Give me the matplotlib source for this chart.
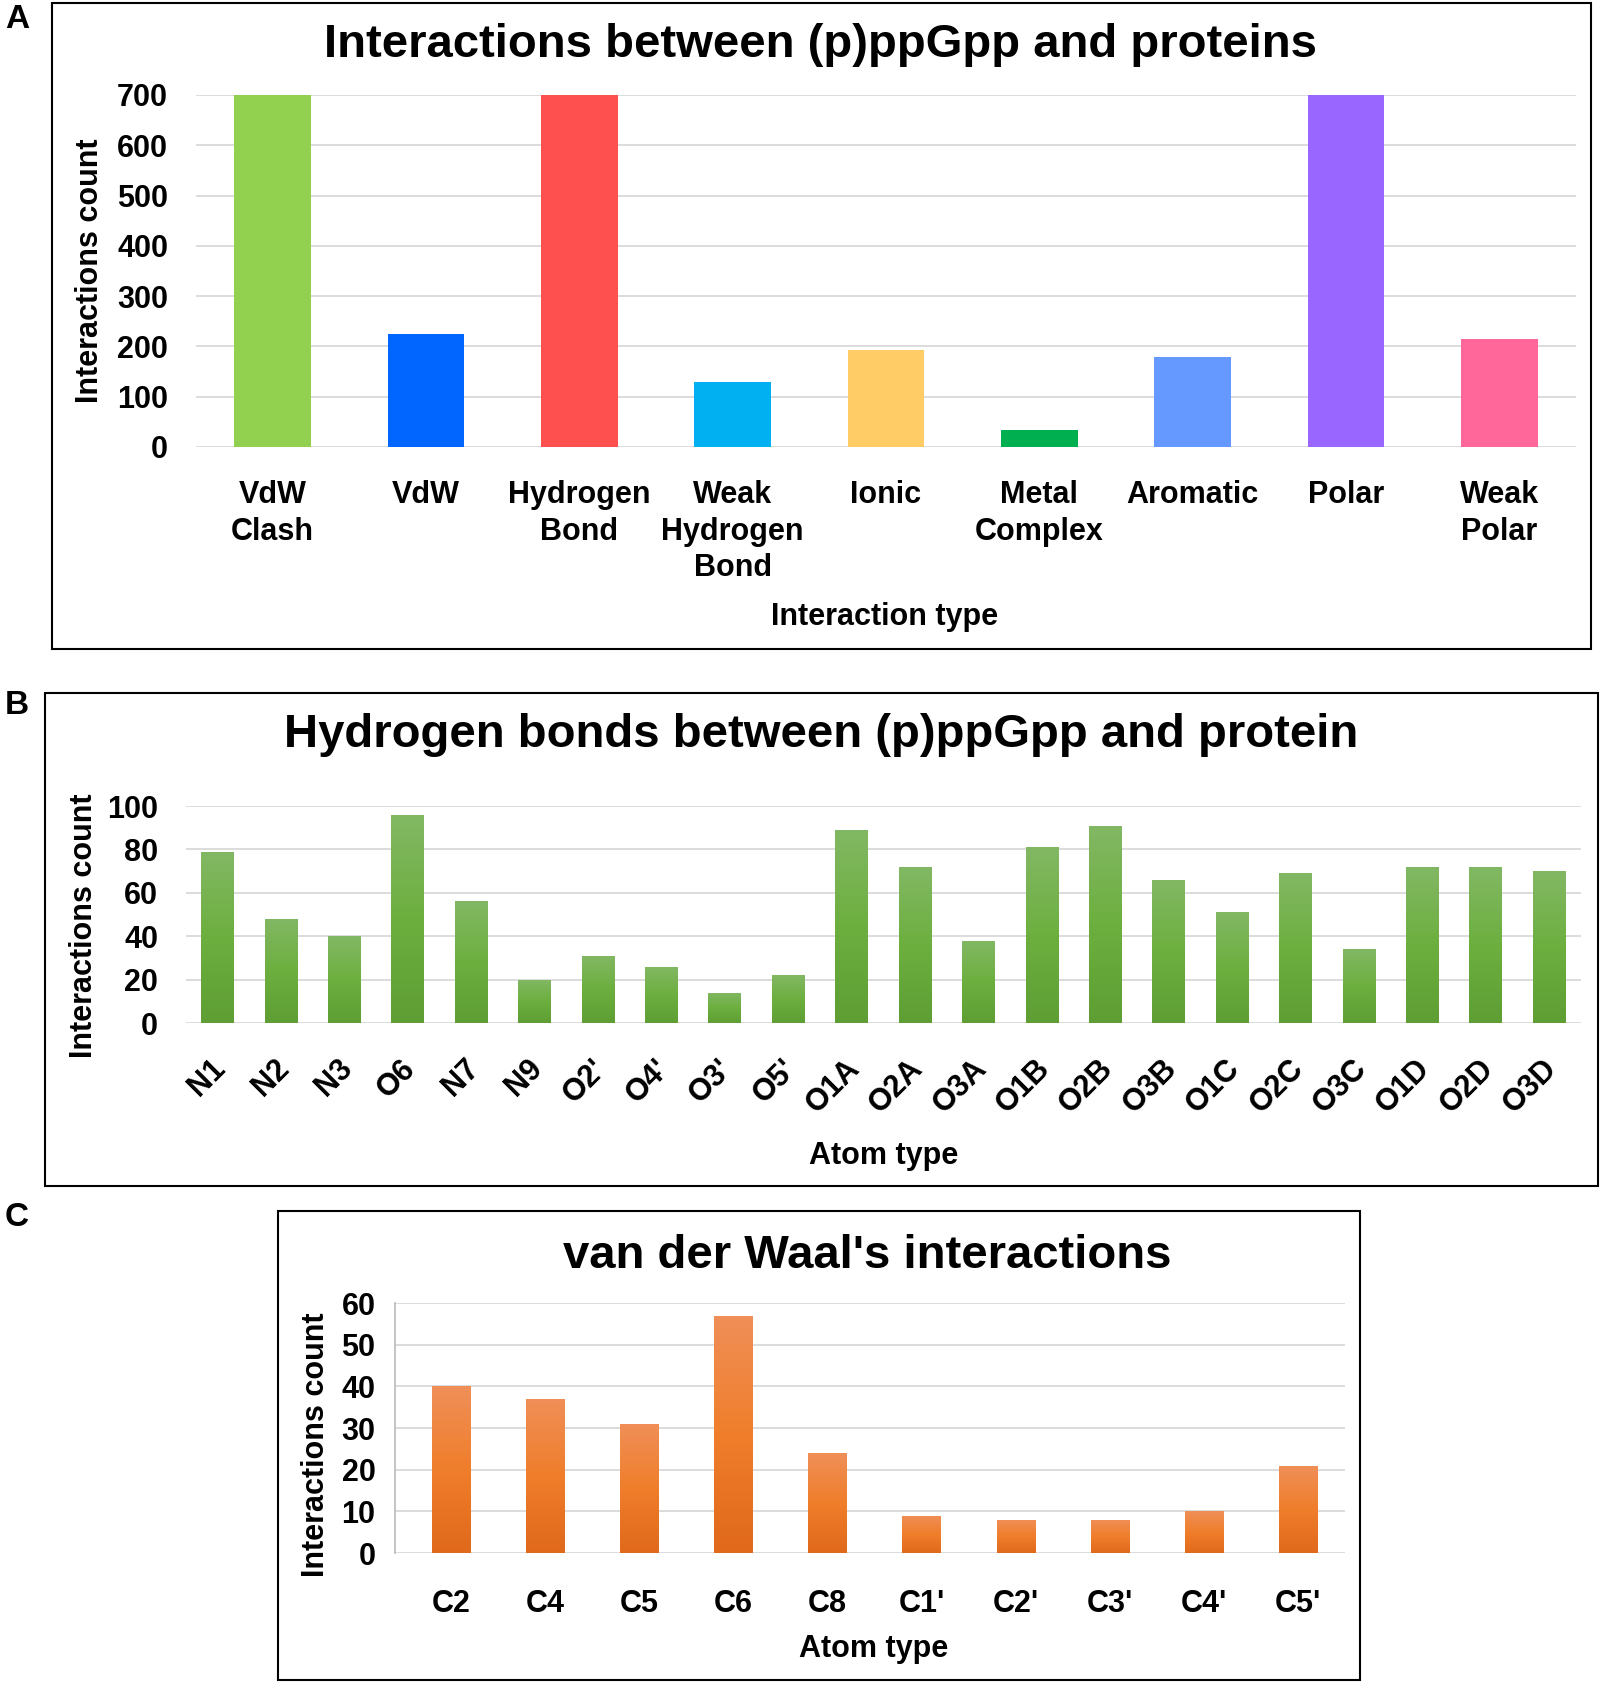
import matplotlib
matplotlib.use('Agg')
import matplotlib.pyplot as plt
import matplotlib.transforms as mtransforms
import numpy as np
from matplotlib.colors import LinearSegmentedColormap
from matplotlib.patches import Rectangle

plt.rcParams['font.family'] = ['Liberation Sans', 'DejaVu Sans']
plt.rcParams['font.weight'] = 'bold'

# panel A data
types_a = ['VdW\nClash', 'VdW', 'Hydrogen\nBond', 'Weak\nHydrogen\nBond', 'Ionic',
           'Metal\nComplex', 'Aromatic', 'Polar', 'Weak\nPolar']
counts_a = [700, 224, 700, 129, 192, 33, 178, 700, 214]
colors_a = ['#92D050', '#0066FF', '#FF5050', '#00B0F0', '#FFCC66',
            '#00B050', '#6699FF', '#9966FF', '#FF6699']
yticks_a = [0, 100, 200, 300, 400, 500, 600, 700]

# panel B data
atoms_b = ['N1', 'N2', 'N3', 'O6', 'N7', 'N9', "O2'", "O4'", "O3'", "O5'",
           'O1A', 'O2A', 'O3A', 'O1B', 'O2B', 'O3B', 'O1C', 'O2C', 'O3C',
           'O1D', 'O2D', 'O3D']
counts_b = [79, 48, 40, 96, 56, 20, 31, 26, 14, 22,
            89, 72, 38, 81, 91, 66, 51, 69, 34, 72, 72, 70]
yticks_b = [0, 20, 40, 60, 80, 100]

# panel C data
atoms_c = ['C2', 'C4', 'C5', 'C6', 'C8', "C1'", "C2'", "C3'", "C4'", "C5'"]
counts_c = [40, 37, 31, 57, 24, 9, 8, 8, 10, 21]
yticks_c = [0, 10, 20, 30, 40, 50, 60]

green = LinearSegmentedColormap.from_list('g', ['#82B864', '#6DAF3F', '#5E9E34'])
orange = LinearSegmentedColormap.from_list('o', ['#EF8F58', '#F07E2B', '#E0691B'])

W, H = 1601, 1685
fig = plt.figure(figsize=(W / 100, H / 100), dpi=100)


def px_axes(l, t, r, b):
    return fig.add_axes([l / W, 1 - b / H, (r - l) / W, (b - t) / H])


def px_text(x, y, s, **kw):
    fig.text(x / W, 1 - y / H, s, ha='center', va='center', **kw)


def frame(l, t, r, b):
    fig.add_artist(Rectangle((l / W, 1 - b / H), (r - l) / W, (b - t) / H,
                             transform=fig.transFigure, fill=False,
                             ec='black', lw=1.5))


def style(ax, yticks, ypad, xpad):
    for s in ax.spines.values():
        s.set_visible(False)
    ax.set_yticks(yticks)
    ax.set_ylim(yticks[0], yticks[-1])
    ax.grid(axis='y', color='#D9D9D9', lw=1.3)
    ax.set_axisbelow(True)
    ax.tick_params(axis='y', length=0, labelsize=22, pad=ypad)
    ax.tick_params(axis='x', length=0, labelsize=22, pad=xpad)


def gradient_bars(ax, n, vals, width, cmap):
    x = np.arange(n)
    bars = ax.bar(x, vals, width=width, color='none', zorder=2)
    grad = np.linspace(0, 1, 256).reshape(-1, 1)
    for b in bars:
        im = ax.imshow(grad, extent=[b.get_x(), b.get_x() + b.get_width(), 0, b.get_height()],
                       cmap=cmap, aspect='auto', zorder=2, interpolation='bilinear')
        im.set_clip_path(b)


# ---- A ----
frame(52, 3, 1591, 649)
ax = px_axes(196, 95, 1576, 447)
ax.bar(np.arange(len(types_a)), counts_a, width=0.5, color=colors_a, zorder=2)
ax.set_xlim(-0.5, len(types_a) - 0.5)
ax.set_xticks(np.arange(len(types_a)))
ax.set_xticklabels(types_a, linespacing=1.27)
style(ax, yticks_a, 20, 24)
px_text(820, 45, 'Interactions between (p)ppGpp and proteins', fontsize=34)
px_text(90, 271, 'Interactions count', fontsize=22, rotation=90)
px_text(885, 617, 'Interaction type', fontsize=22)
px_text(17, 19, 'A', fontsize=24)

# ---- B ----
frame(45, 693, 1598, 1186)
ax = px_axes(186, 806, 1581, 1023)
gradient_bars(ax, len(atoms_b), counts_b, 0.52, green)
ax.set_xlim(-0.5, len(atoms_b) - 0.5)
ax.set_xticks(np.arange(len(atoms_b)))
style(ax, yticks_b, 20, 22)
ax.set_xticklabels(atoms_b, rotation=45, ha='right')
shift = mtransforms.ScaledTranslation(0.14, 0, fig.dpi_scale_trans)
for lab in ax.get_xticklabels():
    lab.set_transform(lab.get_transform() + shift)
px_text(821, 735, 'Hydrogen bonds between (p)ppGpp and protein', fontsize=34)
px_text(84, 926, 'Interactions count', fontsize=22, rotation=90)
px_text(884, 1156, 'Atom type', fontsize=22)
px_text(17, 706, 'B', fontsize=24)

# ---- C ----
frame(278, 1211, 1360, 1680)
ax = px_axes(395, 1303, 1345, 1553)
gradient_bars(ax, len(atoms_c), counts_c, 0.41, orange)
ax.set_xlim(-0.6, len(atoms_c) - 0.5)
ax.set_xticks(np.arange(len(atoms_c)))
ax.set_xticklabels(atoms_c)
style(ax, yticks_c, 14, 26)
ax.spines['left'].set_visible(True)
ax.spines['left'].set_color('#BFBFBF')
ax.spines['left'].set_linewidth(1.3)
px_text(867, 1256, "van der Waal's interactions", fontsize=34)
px_text(316, 1445, 'Interactions count', fontsize=22, rotation=90)
px_text(874, 1649, 'Atom type', fontsize=22)
px_text(17, 1217, 'C', fontsize=24)

fig.savefig('out.png', dpi=100, facecolor='white')
